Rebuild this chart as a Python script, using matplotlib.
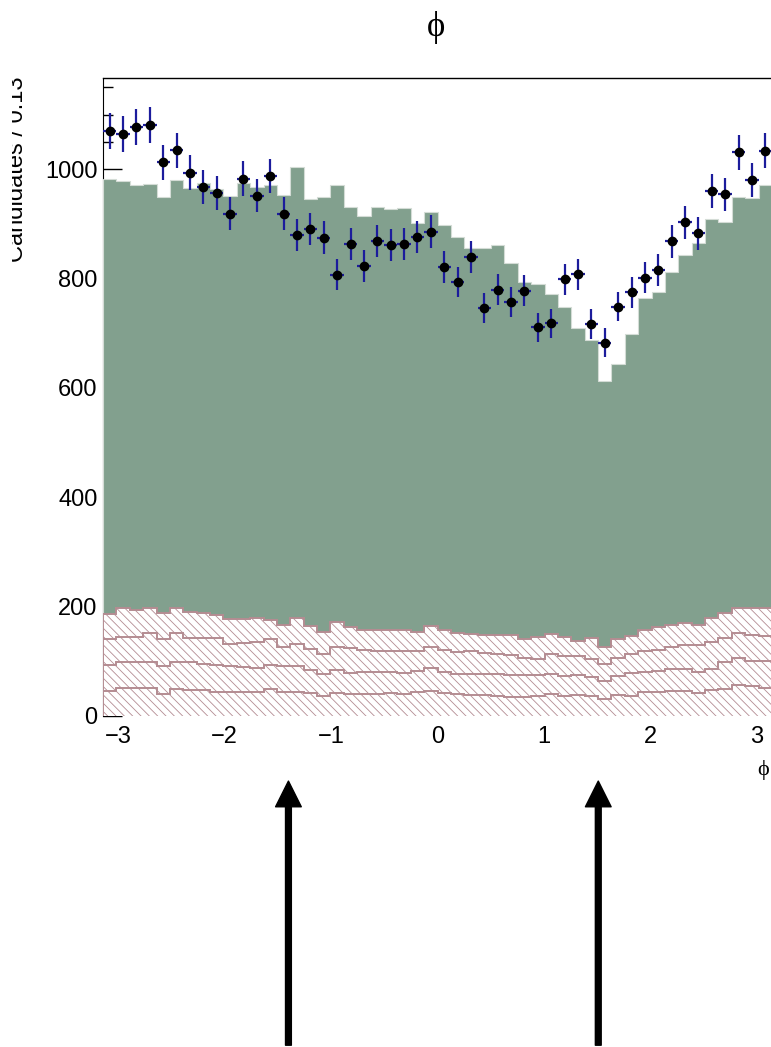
import matplotlib.pyplot as plt
import numpy as np
from matplotlib.ticker import MultipleLocator
from matplotlib.transforms import Bbox, TransformedBbox

N_BINS = 50
PHI_LO, PHI_HI = -np.pi, np.pi

# observed candidates per bin
DATA = [1070, 1065, 1078, 1081, 1013, 1035, 994, 968, 957, 919,
        983, 952, 988, 919, 880, 891, 875, 807, 863, 823,
        869, 861, 863, 876, 886, 821, 794, 839, 747, 780,
        758, 778, 711, 718, 799, 808, 717, 683, 749, 775,
        802, 816, 868, 903, 883, 960, 954, 1031, 981, 1034]

# stacked expectation, bottom component first
BKG_1 = [46, 52, 51, 51, 40, 49, 47, 47, 43, 43,
         43, 44, 50, 44, 44, 42, 37, 42, 40, 40,
         41, 42, 40, 44, 46, 42, 40, 38, 38, 37,
         35, 35, 37, 40, 37, 38, 36, 32, 38, 37,
         43, 43, 45, 45, 42, 47, 49, 57, 54, 51]
BKG_2 = [47, 46, 48, 48, 51, 49, 52, 49, 50, 49,
         47, 43, 44, 47, 48, 42, 39, 42, 39, 40,
         39, 39, 38, 38, 41, 39, 37, 39, 38, 39,
         40, 40, 38, 36, 37, 37, 36, 32, 35, 41,
         37, 39, 41, 41, 39, 39, 50, 50, 47, 50]
BKG_3 = [48, 47, 46, 52, 49, 53, 43, 47, 49, 40,
         44, 49, 46, 35, 39, 38, 37, 43, 45, 41,
         39, 37, 40, 37, 40, 39, 40, 41, 40, 37,
         37, 32, 29, 37, 35, 34, 32, 31, 33, 35,
         39, 39, 41, 44, 49, 50, 43, 44, 48, 45]
BKG_4 = [46, 53, 49, 46, 49, 47, 49, 45, 43, 45,
         43, 43, 35, 40, 48, 43, 41, 45, 38, 36,
         38, 40, 40, 34, 38, 37, 35, 32, 32, 35,
         37, 34, 40, 37, 35, 29, 38, 31, 34, 33,
         38, 41, 39, 41, 36, 43, 46, 46, 49, 51]
SIGNAL = [796, 781, 777, 777, 760, 783, 775, 787, 779, 775,
          798, 789, 796, 787, 826, 780, 796, 800, 769, 758,
          774, 769, 771, 749, 756, 742, 724, 706, 708, 714,
          680, 653, 647, 621, 604, 571, 545, 486, 504, 553,
          608, 614, 646, 673, 700, 731, 715, 753, 750, 774]

ARROW_PHI = [-1.40, 1.51]

GREEN = "#82a08e"
HATCH_COL = "#b48c92"
ERR_COL = "#1c1c9c"

plt.rcParams["font.family"] = ["Liberation Sans", "DejaVu Sans"]
plt.rcParams["hatch.linewidth"] = 0.6

W, H = 771, 1047
fig = plt.figure(figsize=(W / 100, H / 100), dpi=100)
ax = fig.add_axes([103 / W, 331 / H, 669 / W, 638 / H])

edges = np.linspace(PHI_LO, PHI_HI, N_BINS + 1)
centers = 0.5 * (edges[:-1] + edges[1:])
half = 0.5 * (edges[1] - edges[0])

stack = np.cumsum([BKG_1, BKG_2, BKG_3, BKG_4, SIGNAL], axis=0)

# total first, then each background level painted over it
ax.stairs(stack[4], edges, fill=True, facecolor=GREEN, edgecolor="#d4dcd6",
          linewidth=0.8, zorder=1)
for lvl in range(3, -1, -1):
    ax.stairs(stack[lvl], edges, fill=True, facecolor="white",
              edgecolor=HATCH_COL, hatch="\\\\\\\\", linewidth=1.4, zorder=1)

data = np.array(DATA, dtype=float)
ax.errorbar(centers, data, xerr=half, yerr=np.sqrt(data), fmt="o",
            color="black", ms=6, ecolor=ERR_COL, elinewidth=1.6,
            capsize=0, zorder=5)

ax.set_xlim(PHI_LO, PHI_HI)
ax.set_ylim(0, 1167)
ax.set_axisbelow(True)
ax.xaxis.set_major_locator(MultipleLocator(1))
ax.yaxis.set_major_locator(MultipleLocator(200))
ax.yaxis.set_minor_locator(MultipleLocator(50))
ax.tick_params(axis="both", which="major", direction="in", length=14,
               width=1, labelsize=17, pad=4)
ax.tick_params(axis="both", which="minor", direction="in", length=7, width=1)
ax.tick_params(axis="x", which="both", length=0, pad=7)
ax.tick_params(axis="y", pad=4)

for side in ("right", "bottom"):
    ax.spines[side].set_visible(False)
ax.spines["left"].set_zorder(0.5)
ax.spines["top"].set_linewidth(1.0)

serif = ["Liberation Serif", "DejaVu Serif"]
fig.text(436.5 / W, 1 - 27 / H, "\u03d5", fontsize=25, family=serif,
         ha="center", va="center")
fig.text(763 / W, 1 - 770 / H, "\u03d5", fontsize=16, family=serif,
         ha="center", va="center")

ylab = fig.text(28 / W, 1 - 77 / H, "Candidates / 0.13", rotation=90,
                ha="right", va="top", fontsize=17)
ylab.set_clip_box(TransformedBbox(Bbox([[12 / W, 0], [1, 1]]), fig.transFigure))
ylab.set_clip_on(True)

for phi in ARROW_PHI:
    ax.annotate("", xy=(phi, -0.102), xycoords=("data", "axes fraction"),
                xytext=(phi, -0.516), textcoords=("data", "axes fraction"),
                annotation_clip=False,
                arrowprops=dict(facecolor="black", edgecolor="black",
                                width=4.2, headwidth=18.5, headlength=18.5,
                                shrink=0))

fig.savefig("out.png", dpi=100)
